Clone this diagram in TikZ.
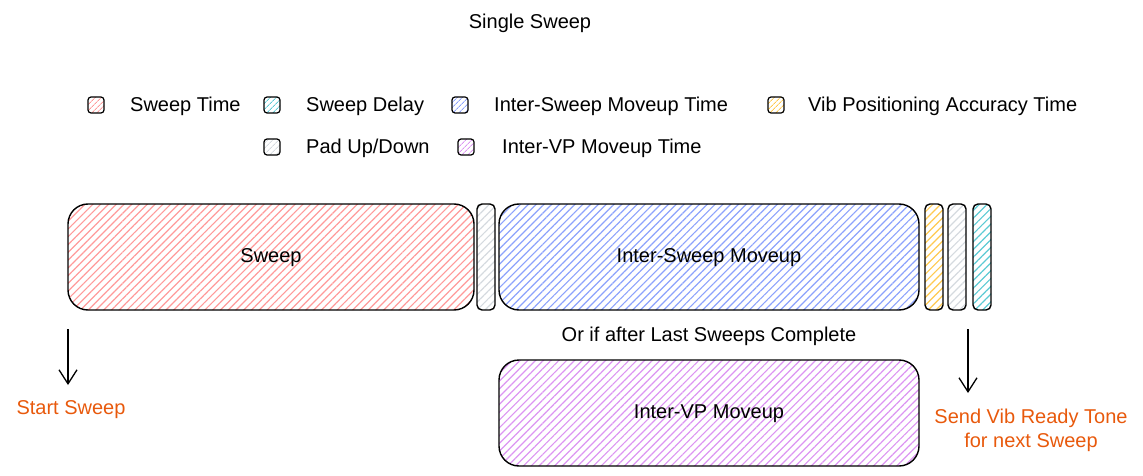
\documentclass[tikz,border=0pt]{standalone}
\usepackage{fontspec}
\setmainfont{Liberation Sans}
\usetikzlibrary{patterns.meta,arrows.meta}
\definecolor{cred}{HTML}{FF9A9A}
\definecolor{cteal}{HTML}{5CCAD4}
\definecolor{cblue}{HTML}{8CA2FC}
\definecolor{cyellow}{HTML}{FFC94F}
\definecolor{cgray}{HTML}{D5DADF}
\definecolor{cpurple}{HTML}{DC95F2}
\definecolor{corange}{HTML}{E8590C}
\tikzset{
  txt/.style={font=\fontsize{20}{24}\selectfont, inner sep=0pt, text=black},
  otxt/.style={txt, text=corange, align=center},
  hatch/.style={draw=black, line width=1.4pt, pattern={Lines[angle=45,distance=5.5pt,line width=1.2pt]}, pattern color=#1},
  bigbox/.style={hatch=#1, rounded corners=20pt},
  bar/.style={hatch=#1, rounded corners=5pt},
  leg/.style={hatch=#1, rounded corners=3pt, line width=1.2pt, pattern={Lines[angle=45,distance=4pt,line width=1pt]}},
  arr/.style={line width=1.3pt, -{Straight Barb[length=14pt,width=18pt,line width=1.3pt]}}
}
\begin{document}
\begin{tikzpicture}[x=1pt,y=-1pt]
\useasboundingbox (0,0) rectangle (1143,476);
% title
\node[txt] (title) at (530,23) {Single Sweep};
% legend row 1
\draw[leg=cred] (88,97) rectangle (104,113);
\node[txt, anchor=west] (l1) at (130,106) {Sweep Time};
\draw[leg=cteal] (264,97) rectangle (280,113);
\node[txt, anchor=west] (l2) at (306,106) {Sweep Delay};
\draw[leg=cblue] (452,97) rectangle (468,113);
\node[txt, anchor=west] (l3) at (494,106) {Inter-Sweep Moveup Time};
\draw[leg=cyellow] (768,97) rectangle (784,113);
\node[txt, anchor=west] (l4) at (808,106) {Vib Positioning Accuracy Time};
% legend row 2
\draw[leg=cgray] (264,139) rectangle (280,155);
\node[txt, anchor=west] (l5) at (306,148) {Pad Up/Down};
\draw[leg=cpurple] (458,139) rectangle (474,155);
\node[txt, anchor=west] (l6) at (502,148) {Inter-VP Moveup Time};
% boxes
\draw[bigbox=cred] (68,204) rectangle (474,310);
\node[txt] (sweep) at (271,258) {Sweep};
\draw[bar=cgray] (477,204) rectangle (495,310);
\draw[bigbox=cblue] (499,204) rectangle (919,310);
\node[txt] (ism) at (709,258) {Inter-Sweep Moveup};
\draw[bar=cyellow] (925,204) rectangle (943,310);
\draw[bar=cgray] (948,204) rectangle (966,310);
\draw[bar=cteal] (973,204) rectangle (991,310);
\node[txt] (orif) at (709,336) {Or if after Last Sweeps Complete};
\draw[bigbox=cpurple] (499,360) rectangle (919,466);
\node[txt] (ivp) at (709,414) {Inter-VP Moveup};
% arrows and labels
\coordinate (a1s) at (68,329);
\coordinate (a1e) at (68,385);
\draw[arr] (a1s) -- (a1e);
\node[otxt] (start) at (71,410) {Start Sweep};
\coordinate (a2s) at (968,329);
\coordinate (a2e) at (968,393);
\draw[arr] (a2s) -- (a2e);
\node[otxt] (send) at (1031,430) {Send Vib Ready Tone\\[0pt]for next Sweep};
\end{tikzpicture}
\end{document}
